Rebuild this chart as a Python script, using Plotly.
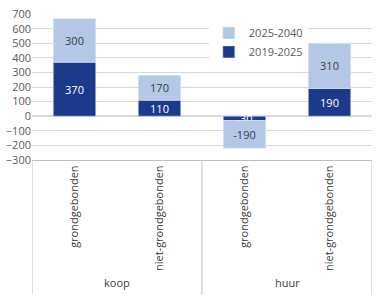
import plotly.graph_objects as go

subcats = ["grondgebonden", "niet-grondgebonden", "grondgebonden", "niet-grondgebonden"]
groups = ["koop", "huur"]
s2019_2025 = [370, 110, -30, 190]
s2025_2040 = [300, 170, -190, 310]
yticks = [-300, -200, -100, 0, 100, 200, 300, 400, 500, 600, 700]

dark = "#1C3A8A"
light = "#B4C7E7"
grey = "#595959"
line = "#BFBFBF"
font = "Open Sans"

x = list(range(len(subcats)))

fig = go.Figure()
fig.add_bar(x=x, y=s2019_2025, name="2019-2025", marker_color=dark,
            text=s2019_2025, textposition="inside", insidetextanchor="middle",
            textfont=dict(color="white", size=11, family=font))
fig.add_bar(x=x, y=s2025_2040, name="2025-2040", marker_color=light,
            text=s2025_2040, textposition="inside", insidetextanchor="middle",
            textfont=dict(color="#404040", size=11, family=font))

top = 8
bottom = 140
plot_h = 300 - top - bottom
ybot = -bottom / plot_h

shapes = []
for xv in [-0.5, 1.5, 3.5]:
    shapes.append(dict(type="line", xref="x", yref="paper", x0=xv, x1=xv,
                       y0=0, y1=ybot, line=dict(color=line, width=1)))

annotations = []
for i, g in enumerate(groups):
    annotations.append(dict(x=2 * i + 0.5, xref="x", y=-(128) / plot_h, yref="paper",
                            text=g, showarrow=False, yanchor="middle",
                            font=dict(size=11, color="#404040", family=font)))

fig.update_layout(
    width=378, height=300,
    margin=dict(l=32, r=6, t=top, b=bottom),
    barmode="relative", bargap=0.5,
    plot_bgcolor="white", paper_bgcolor="white",
    font=dict(family=font, size=11, color=grey),
    uniformtext=dict(minsize=11, mode="show"),
    legend=dict(x=0.52, y=0.97, xanchor="left", yanchor="top",
                bgcolor="white", traceorder="reversed",
                font=dict(size=11, color=grey, family=font),
                itemwidth=30, tracegroupgap=0),
    xaxis=dict(range=[-0.5, 3.5], tickmode="array", tickvals=x, ticktext=subcats,
               tickangle=-90, showgrid=False, showline=True, linecolor=line,
               zeroline=False, tickfont=dict(size=11, color="#404040", family=font)),
    yaxis=dict(range=[-300.5, 700.5], tickvals=yticks, showgrid=True, gridcolor="#D9D9D9",
               zeroline=True, zerolinecolor="#D9D9D9", showline=False,
               ticklabeloverflow="allow",
               tickfont=dict(size=11, color=grey, family=font)),
    shapes=shapes, annotations=annotations,
)

fig.write_html("out.html")
